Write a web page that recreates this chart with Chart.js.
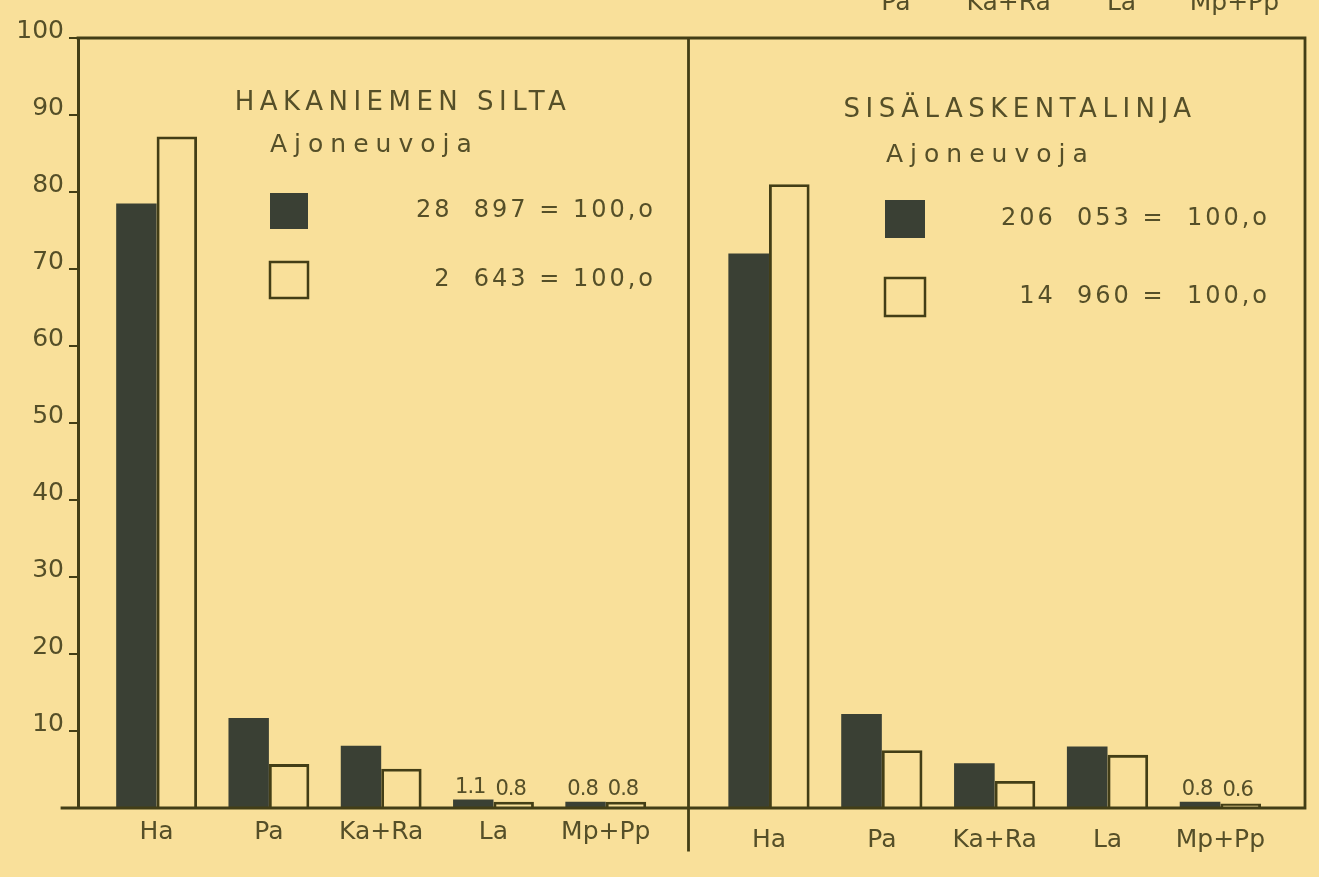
<!DOCTYPE html>
<html>
<head>
<meta charset="utf-8">
<script src="https://cdn.jsdelivr.net/npm/chart.js@4.4.0/dist/chart.umd.min.js"></script>
<style>
  html, body { margin: 0; padding: 0; background: #f9e09a; }
  #wrap { position: relative; width: 1319px; height: 877px; overflow: hidden; background: #f9e09a; }
  #left { position: absolute; left: 0; top: 0; }
  #right { position: absolute; left: 690px; top: 0; }
</style>
</head>
<body>
<div id="wrap">
  <canvas id="left" width="690" height="877"></canvas>
  <canvas id="right" width="629" height="877"></canvas>
</div>
<script>
// data (percent of vehicles)
const CATEGORIES = ['Ha', 'Pa', 'Ka+Ra', 'La', 'Mp+Pp'];
const Y_MIN = 0;
const Y_MAX = 100;
const Y_STEP = 10;

const hakaDark = [78.5, 11.7, 8.1, 1.1, 0.8];
const hakaLight = [87.2, 5.7, 5.1, 0.8, 0.8];
const sisaDark = [72.0, 12.2, 5.8, 8.0, 0.8];
const sisaLight = [81.0, 7.5, 3.5, 6.9, 0.6];

const hakaTitle = 'HAKANIEMEN SILTA';
const sisaTitle = 'SISÄLASKENTALINJA';
const subTitle = 'Ajoneuvoja';
const hakaTotals = ['28  897 = 100,o', '2  643 = 100,o'];
const sisaTotals = ['206  053 =  100,o', '14  960 =  100,o'];

const INK = '#433e16';
const TEXT = '#554f28';
const DARK = '#3a4034';
const FONT = "'DejaVu Sans', 'Noto Sans', sans-serif";

const TOP = 38;        // chart area top
const AXIS_H = 69;     // space below the baseline

function toPoints(values) {
  return values.map((v, i) => ({ x: i + 1, y: v }));
}

// frame, legend boxes, titles and small value labels
const panelPlugin = {
  id: 'panel',
  afterDatasetsDraw(chart, args, opts) {
    const ctx = chart.ctx;
    const a = chart.chartArea;
    ctx.save();
    ctx.strokeStyle = INK;
    ctx.lineWidth = 2.8;
    ctx.lineCap = 'square';

    // frame lines
    ctx.beginPath();
    if (opts.side === 'left') {
      ctx.moveTo(a.left, a.top); ctx.lineTo(a.right, a.top);
      ctx.moveTo(a.left - 16, a.bottom); ctx.lineTo(a.right, a.bottom);
      ctx.moveTo(a.right - 1.5, a.top); ctx.lineTo(a.right - 1.5, a.bottom + 42);
    } else {
      ctx.moveTo(a.left, a.top); ctx.lineTo(a.right, a.top);
      ctx.moveTo(a.left, a.bottom); ctx.lineTo(a.right, a.bottom);
      ctx.moveTo(a.right, a.top); ctx.lineTo(a.right, a.bottom);
    }
    ctx.stroke();

    // small value labels above the tiny bars
    ctx.fillStyle = TEXT;
    ctx.font = '21px ' + FONT;
    ctx.letterSpacing = '-1px';
    ctx.textAlign = 'center';
    ctx.textBaseline = 'alphabetic';
    chart.data.datasets.forEach((ds, di) => {
      const meta = chart.getDatasetMeta(di);
      meta.data.forEach((bar, i) => {
        const v = ds.data[i].y;
        if (v < 2) ctx.fillText(v.toFixed(1), bar.x - 3, bar.y - 7);
      });
    });

    // title block
    const L = opts.legend;
    ctx.font = '26px ' + FONT;
    ctx.letterSpacing = '5.5px';
    ctx.textAlign = 'center';
    ctx.textBaseline = 'middle';
    ctx.fillText(opts.title, L.titleX, L.titleY);
    ctx.font = '25px ' + FONT;
    ctx.letterSpacing = '7px';
    ctx.textAlign = 'left';
    ctx.fillText(subTitle, L.subX, L.subY);

    // legend swatches
    ctx.fillStyle = DARK;
    ctx.fillRect(L.boxX, L.box1Y, L.boxW, L.boxH);
    ctx.lineWidth = 2.5;
    ctx.strokeRect(L.boxX, L.box2Y, L.boxW, L.boxH);

    ctx.fillStyle = TEXT;
    ctx.font = '24px ' + FONT;
    ctx.letterSpacing = '3px';
    ctx.textAlign = 'right';
    ctx.fillText(opts.totals[0], L.textRight, L.box1Y + L.boxH / 2);
    ctx.fillText(opts.totals[1], L.textRight, L.box2Y + L.boxH / 2);

    // bottom edge of the labels of the chart above, cut off by the page
    if (opts.side === 'right') {
      ctx.font = '25px ' + FONT;
      ctx.letterSpacing = '0px';
      ctx.textAlign = 'center';
      ctx.textBaseline = 'alphabetic';
      const xs = chart.scales.x;
      xs.ticks.forEach((t, i) => {
        if (i > 0) ctx.fillText(CATEGORIES[i], xs.getPixelForValue(t.value) + 14, 10);
      });
    }
    ctx.restore();
  }
};

function xScale(labelPad) {
  return {
    type: 'linear',
    offset: false,
    min: 0.3,
    max: 5.75,
    afterBuildTicks: s => { s.ticks = CATEGORIES.map((c, i) => ({ value: i + 1 })); },
    afterFit: s => { s.height = AXIS_H; },
    ticks: {
      callback: v => CATEGORIES[v - 1],
      color: TEXT,
      font: { family: FONT, size: 25 },
      padding: labelPad,
      autoSkip: false,
      maxRotation: 0
    },
    grid: { display: false },
    border: { display: false }
  };
}

function datasets(dark, light) {
  return [
    {
      data: toPoints(dark),
      backgroundColor: DARK,
      borderWidth: 0,
      categoryPercentage: 0.72,
      barPercentage: 1
    },
    {
      data: toPoints(light),
      backgroundColor: 'rgba(0,0,0,0)',
      borderColor: INK,
      borderWidth: 2.8,
      categoryPercentage: 0.72,
      barPercentage: 1
    }
  ];
}

Chart.register(panelPlugin);

new Chart(document.getElementById('left'), {
  type: 'bar',
  data: { datasets: datasets(hakaDark, hakaLight) },
  options: {
    responsive: false,
    animation: false,
    devicePixelRatio: 1,
    layout: { padding: { top: TOP, left: 0, right: 0, bottom: 0 } },
    scales: {
      x: xScale(1),
      y: {
        min: Y_MIN,
        max: Y_MAX,
        afterFit: s => { s.width = 78; },
        ticks: {
          stepSize: Y_STEP,
          color: TEXT,
          font: { family: FONT, size: 25 },
          padding: 5,
          labelOffset: -7,
          callback: v => (v === 0 ? '' : v)
        },
        grid: { drawOnChartArea: false, drawTicks: true, tickLength: 9, color: INK, lineWidth: 2 },
        border: { display: true, color: INK, width: 3 }
      }
    },
    plugins: {
      legend: { display: false },
      tooltip: { enabled: false },
      panel: {
        side: 'left',
        title: hakaTitle,
        totals: hakaTotals,
        legend: { titleX: 403, titleY: 103, subX: 270, subY: 145, boxX: 270, box1Y: 193, box2Y: 262, boxW: 38, boxH: 36, textRight: 656 }
      }
    }
  }
});

new Chart(document.getElementById('right'), {
  type: 'bar',
  data: { datasets: datasets(sisaDark, sisaLight) },
  options: {
    responsive: false,
    animation: false,
    devicePixelRatio: 1,
    layout: { padding: { top: TOP, left: 0, right: 14, bottom: 0 } },
    scales: {
      x: xScale(9),
      y: { display: false, min: Y_MIN, max: Y_MAX }
    },
    plugins: {
      legend: { display: false },
      tooltip: { enabled: false },
      panel: {
        side: 'right',
        title: sisaTitle,
        totals: sisaTotals,
        legend: { titleX: 330, titleY: 110, subX: 196, subY: 155, boxX: 195, box1Y: 200, box2Y: 278, boxW: 40, boxH: 38, textRight: 580 }
      }
    }
  }
});
</script>
</body>
</html>
